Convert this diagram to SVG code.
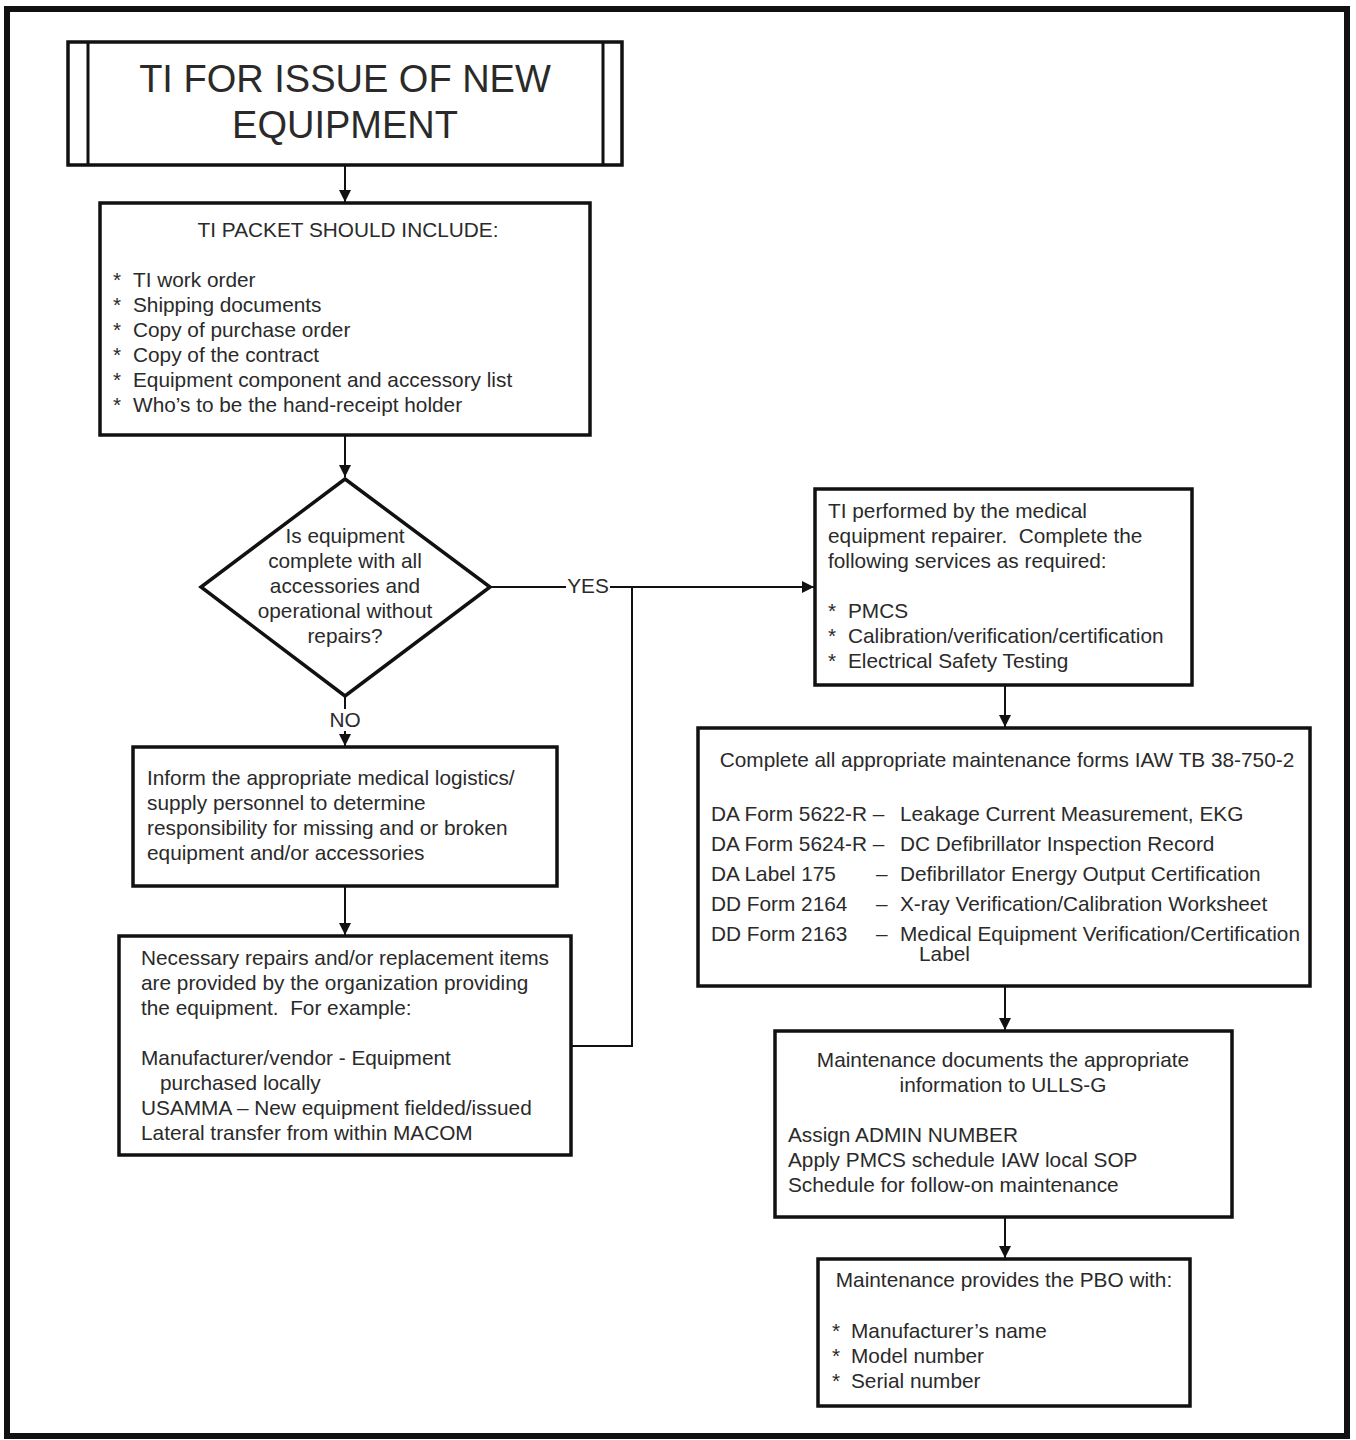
<svg xmlns="http://www.w3.org/2000/svg" width="1356" height="1440" viewBox="0 0 1356 1440">
<defs>
<marker id="ah" viewBox="0 0 12 12" refX="12" refY="6" markerWidth="12" markerHeight="12" markerUnits="userSpaceOnUse" orient="auto">
<path d="M0,0 L12,6 L0,12 z" fill="#111"/>
</marker>
<style>
.box{fill:#fff;stroke:#111;stroke-width:3.5}
.t{font-family:"Liberation Sans",Arial,sans-serif;font-size:20.8px;fill:#2a2a2a;white-space:pre}
.c{text-anchor:middle}
.ln{fill:none;stroke:#111;stroke-width:2}
</style>
</defs>
<rect x="0" y="0" width="1356" height="1440" fill="#fff"/>
<rect x="7" y="9" width="1340" height="1427" fill="none" stroke="#111" stroke-width="6"/>

<g id="connectors">
<line class="ln" x1="345" y1="165" x2="345" y2="202" marker-end="url(#ah)"/>
<line class="ln" x1="345" y1="435" x2="345" y2="477" marker-end="url(#ah)"/>
<line class="ln" x1="345" y1="697" x2="345" y2="709"/>
<line class="ln" x1="345" y1="731" x2="345" y2="746" marker-end="url(#ah)"/>
<text class="t c" x="345" y="727">NO</text>
<polyline class="ln" points="490,587 566,587"/>
<text class="t c" x="588" y="593">YES</text>
<polyline class="ln" points="610,587 814,587" marker-end="url(#ah)"/>
<polyline class="ln" points="572,1046 632,1046 632,587"/>
<line class="ln" x1="345" y1="886" x2="345" y2="935" marker-end="url(#ah)"/>
<line class="ln" x1="1005" y1="685" x2="1005" y2="727" marker-end="url(#ah)"/>
<line class="ln" x1="1005" y1="986" x2="1005" y2="1030" marker-end="url(#ah)"/>
<line class="ln" x1="1005" y1="1217" x2="1005" y2="1258" marker-end="url(#ah)"/>
</g>

<g id="title">
<rect class="box" x="68" y="42" width="554" height="123"/>
<line x1="88" y1="42" x2="88" y2="165" stroke="#111" stroke-width="3"/>
<line x1="603" y1="42" x2="603" y2="165" stroke="#111" stroke-width="3"/>
<text class="t c" x="345" y="92" style="font-size:38px">TI FOR ISSUE OF NEW</text>
<text class="t c" x="345" y="138" style="font-size:38px">EQUIPMENT</text>
</g>

<g id="packet">
<rect class="box" x="100" y="203" width="490" height="232"/>
<text class="t c" x="348" y="237">TI PACKET SHOULD INCLUDE:</text>
<text class="t" x="113" y="287">*</text><text class="t" x="133" y="287">TI work order</text>
<text class="t" x="113" y="312">*</text><text class="t" x="133" y="312">Shipping documents</text>
<text class="t" x="113" y="337">*</text><text class="t" x="133" y="337">Copy of purchase order</text>
<text class="t" x="113" y="362">*</text><text class="t" x="133" y="362">Copy of the contract</text>
<text class="t" x="113" y="387">*</text><text class="t" x="133" y="387">Equipment component and accessory list</text>
<text class="t" x="113" y="412">*</text><text class="t" x="133" y="412">Who’s to be the hand-receipt holder</text>
</g>

<g id="decision">
<polygon class="box" points="345,479 490,587 345,696 201,587"/>
<text class="t c" x="345" y="543">Is equipment</text>
<text class="t c" x="345" y="568">complete with all</text>
<text class="t c" x="345" y="593">accessories and</text>
<text class="t c" x="345" y="618">operational without</text>
<text class="t c" x="345" y="643">repairs?</text>
</g>

<g id="inform">
<rect class="box" x="133" y="747" width="424" height="139"/>
<text class="t" x="147" y="785">Inform the appropriate medical logistics/</text>
<text class="t" x="147" y="810">supply personnel to determine</text>
<text class="t" x="147" y="835">responsibility for missing and or broken</text>
<text class="t" x="147" y="860">equipment and/or accessories</text>
</g>

<g id="repairs">
<rect class="box" x="119" y="936" width="452" height="219"/>
<text class="t" x="141" y="965">Necessary repairs and/or replacement items</text>
<text class="t" x="141" y="990">are provided by the organization providing</text>
<text class="t" x="141" y="1015">the equipment.  For example:</text>
<text class="t" x="141" y="1065">Manufacturer/vendor - Equipment</text>
<text class="t" x="160" y="1090">purchased locally</text>
<text class="t" x="141" y="1115">USAMMA – New equipment fielded/issued</text>
<text class="t" x="141" y="1140">Lateral transfer from within MACOM</text>
</g>

<g id="performed">
<rect class="box" x="815" y="489" width="377" height="196"/>
<text class="t" x="828" y="518">TI performed by the medical</text>
<text class="t" x="828" y="543">equipment repairer.  Complete the</text>
<text class="t" x="828" y="568">following services as required:</text>
<text class="t" x="828" y="618">*</text><text class="t" x="848" y="618">PMCS</text>
<text class="t" x="828" y="643">*</text><text class="t" x="848" y="643">Calibration/verification/certification</text>
<text class="t" x="828" y="668">*</text><text class="t" x="848" y="668">Electrical Safety Testing</text>
</g>

<g id="forms">
<rect class="box" x="698" y="728" width="612" height="258"/>
<text class="t c" x="1007" y="767">Complete all appropriate maintenance forms IAW TB 38-750-2</text>
<text class="t" x="711" y="821">DA Form 5622-R –</text><text class="t" x="900" y="821">Leakage Current Measurement, EKG</text>
<text class="t" x="711" y="851">DA Form 5624-R –</text><text class="t" x="900" y="851">DC Defibrillator Inspection Record</text>
<text class="t" x="711" y="881">DA Label 175</text><text class="t" x="876" y="881">–</text><text class="t" x="900" y="881">Defibrillator Energy Output Certification</text>
<text class="t" x="711" y="911">DD Form 2164</text><text class="t" x="876" y="911">–</text><text class="t" x="900" y="911">X-ray Verification/Calibration Worksheet</text>
<text class="t" x="711" y="941">DD Form 2163</text><text class="t" x="876" y="941">–</text><text class="t" x="900" y="941">Medical Equipment Verification/Certification</text>
<text class="t" x="919" y="961">Label</text>
</g>

<g id="ulls">
<rect class="box" x="775" y="1031" width="457" height="186"/>
<text class="t c" x="1003" y="1067">Maintenance documents the appropriate</text>
<text class="t c" x="1003" y="1092">information to ULLS-G</text>
<text class="t" x="788" y="1142">Assign ADMIN NUMBER</text>
<text class="t" x="788" y="1167">Apply PMCS schedule IAW local SOP</text>
<text class="t" x="788" y="1192">Schedule for follow-on maintenance</text>
</g>

<g id="pbo">
<rect class="box" x="818" y="1259" width="372" height="147"/>
<text class="t c" x="1004" y="1287">Maintenance provides the PBO with:</text>
<text class="t" x="832" y="1338">*</text><text class="t" x="851" y="1338">Manufacturer’s name</text>
<text class="t" x="832" y="1363">*</text><text class="t" x="851" y="1363">Model number</text>
<text class="t" x="832" y="1388">*</text><text class="t" x="851" y="1388">Serial number</text>
</g>
</svg>
